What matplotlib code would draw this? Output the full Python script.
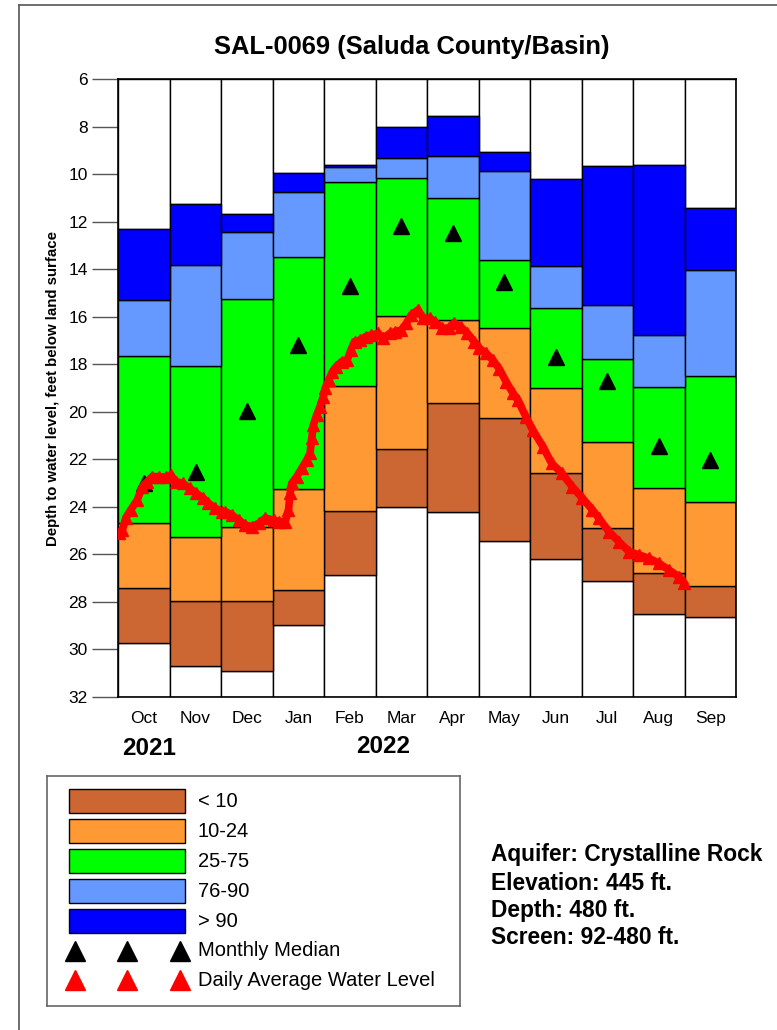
import matplotlib
matplotlib.use("Agg")
import matplotlib.pyplot as plt
import numpy as np
import pandas as pd
from matplotlib.patches import Rectangle
from matplotlib.lines import Line2D

plt.rcParams['font.family'] = ['Liberation Sans', 'DejaVu Sans']

# ---------------- data ----------------
months = ['Oct', 'Nov', 'Dec', 'Jan', 'Feb', 'Mar', 'Apr', 'May', 'Jun', 'Jul', 'Aug', 'Sep']
month_start = ['2021-10-01', '2021-11-01', '2021-12-01', '2022-01-01', '2022-02-01', '2022-03-01',
               '2022-04-01', '2022-05-01', '2022-06-01', '2022-07-01', '2022-08-01', '2022-09-01']

# percentile band boundaries (depth, ft below land surface)
pct_max = [12.29, 11.26, 11.68, 9.96, 9.60, 8.00, 7.53, 9.05, 10.20, 9.65, 9.61, 11.43]
pct_90 = [15.28, 13.81, 12.42, 10.76, 9.71, 9.31, 9.24, 9.85, 13.87, 15.52, 16.78, 14.04]
pct_75 = [17.64, 18.06, 15.26, 13.47, 10.34, 10.17, 11.01, 13.62, 15.64, 17.78, 18.97, 18.49]
pct_25 = [24.67, 25.27, 24.86, 23.25, 18.90, 15.95, 16.13, 16.46, 19.01, 21.28, 23.22, 23.81]
pct_10 = [27.41, 27.97, 27.99, 27.50, 24.18, 21.57, 19.64, 20.27, 22.56, 24.91, 26.80, 27.33]
pct_min = [29.72, 30.69, 30.90, 28.98, 26.87, 24.00, 24.23, 25.44, 26.20, 27.12, 28.53, 28.63]

monthly_median = [23.00, 22.53, 19.97, 17.19, 14.70, 12.18, 12.46, 14.52, 17.68, 18.70, 21.43, 22.03]

daily_dates = ['2021-10-01', '2021-10-03', '2021-10-05', '2021-10-08', '2021-10-12', '2021-10-15',
               '2021-10-18', '2021-10-21', '2021-10-25', '2021-10-29',
               '2021-11-01', '2021-11-04', '2021-11-08', '2021-11-12', '2021-11-16', '2021-11-20',
               '2021-11-23', '2021-11-27',
               '2021-12-01', '2021-12-03', '2021-12-07', '2021-12-11', '2021-12-15', '2021-12-19',
               '2021-12-23', '2021-12-27',
               '2022-01-01', '2022-01-04', '2022-01-08', '2022-01-10', '2022-01-11', '2022-01-12',
               '2022-01-15', '2022-01-18', '2022-01-21', '2022-01-23', '2022-01-24', '2022-01-25',
               '2022-01-27', '2022-01-29', '2022-01-31',
               '2022-02-01', '2022-02-03', '2022-02-05', '2022-02-07', '2022-02-10', '2022-02-13',
               '2022-02-15', '2022-02-17', '2022-02-20', '2022-02-23', '2022-02-26',
               '2022-03-02', '2022-03-05', '2022-03-09', '2022-03-12', '2022-03-16', '2022-03-19',
               '2022-03-22', '2022-03-26', '2022-03-29',
               '2022-04-02', '2022-04-05', '2022-04-09', '2022-04-13', '2022-04-16', '2022-04-20',
               '2022-04-24', '2022-04-28',
               '2022-05-01', '2022-05-05', '2022-05-09', '2022-05-13', '2022-05-17', '2022-05-21',
               '2022-05-24', '2022-05-29',
               '2022-06-02', '2022-06-08', '2022-06-13', '2022-06-19', '2022-06-25',
               '2022-07-01', '2022-07-07', '2022-07-11', '2022-07-17', '2022-07-23', '2022-07-29',
               '2022-08-04', '2022-08-10', '2022-08-16', '2022-08-22', '2022-08-28', '2022-08-31']
daily_level = [25.12, 24.98, 24.47, 24.13, 23.71, 23.15, 22.94, 22.73, 22.73, 22.76,
               22.66, 22.94, 23.01, 23.22, 23.43, 23.64, 23.85, 24.06,
               24.21, 24.21, 24.35, 24.56, 24.77, 24.84, 24.70, 24.48,
               24.56, 24.63, 24.63, 24.13, 23.43, 23.01, 22.73, 22.38, 22.03, 21.75, 21.12, 20.56,
               20.13, 19.78, 19.36,
               19.01, 18.66, 18.31, 18.10, 17.89, 17.82, 17.40, 17.05, 16.98, 16.84, 16.77,
               16.70, 16.91, 16.70, 16.63, 16.56, 16.27, 15.92, 15.71, 16.06,
               16.06, 16.21, 16.48, 16.48, 16.27, 16.42, 16.70, 17.05,
               17.33, 17.54, 17.82, 18.20, 18.73, 19.20, 19.50, 20.21,
               20.77, 21.47, 22.17, 22.59, 23.15,
               23.64, 24.13, 24.49, 25.05, 25.47, 25.89,
               26.03, 26.17, 26.38, 26.66, 26.94, 27.20]

legend_labels = ['< 10', '10-24', '25-75', '76-90', '> 90']
band_colors = ['#CC6633', '#FF9933', '#00FF00', '#6699FF', '#0000FF']

info_lines = ['Aquifer: Crystalline Rock', 'Elevation: 445 ft.', 'Depth: 480 ft.', 'Screen: 92-480 ft.']

# ---------------- figure ----------------
W, H = 777, 1030
fig = plt.figure(figsize=(W / 100, H / 100), dpi=100)

def fx(px):
    return px / W

def fy(py):
    return 1 - py / H

ax = fig.add_axes([fx(118.3), fy(696.7), fx(736) - fx(118.3), fy(79.3) - fy(696.7)])

ymin_axis, ymax_axis = 6, 32
x = np.arange(len(months)) + 0.5

# bands from bottom (deep) to top (shallow)
bottoms = [pct_10, pct_25, pct_75, pct_90, pct_max]
tops_ = [pct_min, pct_10, pct_25, pct_75, pct_90]
edge_kw = dict(edgecolor='black', linewidth=1.0, width=1.0, zorder=2)
# white top part (6 .. pct_max)
ax.bar(x, np.array(pct_max) - ymin_axis, bottom=ymin_axis, color='white', **edge_kw)
# white bottom part (pct_min .. 32)
ax.bar(x, ymax_axis - np.array(pct_min), bottom=pct_min, color='white', **edge_kw)
for lo, hi, col in zip(bottoms, tops_, band_colors):
    lo = np.array(lo)
    hi = np.array(hi)
    ax.bar(x, hi - lo, bottom=lo, color=col, **edge_kw)

ax.plot(x, monthly_median, linestyle='none', marker='^', color='black', markersize=11, zorder=4)

dd = pd.to_datetime(pd.Series(daily_dates))
ms = pd.to_datetime(pd.Series(month_start))
mi = ((dd.dt.year - ms.iloc[0].year) * 12 + dd.dt.month - ms.iloc[0].month).to_numpy()
dx = mi + (dd.dt.day.to_numpy() - 0.5) / dd.dt.days_in_month.to_numpy()
ax.plot(dx, daily_level, color='red', linewidth=5.5, solid_joinstyle='miter', zorder=5)
ax.plot(dx, daily_level, linestyle='none', marker='^', color='red', markersize=8.5, zorder=6)

ax.set_xlim(0, 12)
ax.set_ylim(ymax_axis, ymin_axis)
ax.set_yticks(np.arange(6, 33, 2))
ax.set_xticks(x)
ax.set_xticklabels(months, fontsize=12.5)
ax.tick_params(axis='x', length=0, pad=10)
ax.tick_params(axis='y', length=19, width=1.0, color='#555555', labelsize=12.5, pad=3)
for s in ax.spines.values():
    s.set_linewidth(1.2)
ax.set_ylabel('Depth to water level, feet below land surface', fontsize=10.8, fontweight='bold',
              labelpad=6)

ax.text(0.6, 34.2, '2021', fontsize=17.5, fontweight='bold', ha='center', va='center')
ax.text(5.14, 34.1, '2022', fontsize=17.5, fontweight='bold', ha='center', va='center')

fig.text(fx(411.5), fy(47), 'SAL-0069 (Saluda County/Basin)', fontsize=18.4, fontweight='bold',
         ha='center', va='center')

# info text
for t, yy in zip(info_lines, [855, 884, 911, 938]):
    fig.text(fx(491), fy(yy), t, fontsize=16.4, fontweight='bold', ha='left', va='center')

# ---------------- legend ----------------
lx0, ly0, lx1, ly1 = 46.7, 775.7, 460, 1006
lax = fig.add_axes([fx(lx0), fy(ly1), fx(lx1) - fx(lx0), fy(ly0) - fy(ly1)])
lax.set_xlim(0, lx1 - lx0)
lax.set_ylim(ly1 - ly0, 0)
lax.set_xticks([])
lax.set_yticks([])
for s in lax.spines.values():
    s.set_color('#666666')
    s.set_linewidth(1.2)
for k, (lab, col) in enumerate(zip(legend_labels, band_colors)):
    top = 13.5 + 30 * k
    lax.add_patch(Rectangle((22.5, top), 116, 23.5, facecolor=col, edgecolor='black', linewidth=1.0))
    lax.text(151, top + 12, lab, fontsize=14.5, ha='left', va='center')
tri_x = np.array([75, 127, 180]) - lx0
lax.plot(tri_x, [175] * 3, linestyle='none', marker='^', color='black', markersize=14)
lax.text(151, 175, 'Monthly Median', fontsize=14.5, ha='left', va='center')
lax.plot(tri_x, [204.5] * 3, linestyle='none', marker='^', color='red', markersize=14)
lax.text(151, 204.5, 'Daily Average Water Level', fontsize=14.5, ha='left', va='center')

# outer frame
fig.add_artist(Line2D([fx(19), fx(19)], [fy(5), 0], color='#555555', linewidth=1.2))
fig.add_artist(Line2D([fx(19), 1], [fy(5), fy(5)], color='#555555', linewidth=1.2))

fig.savefig('out.png', dpi=100)
